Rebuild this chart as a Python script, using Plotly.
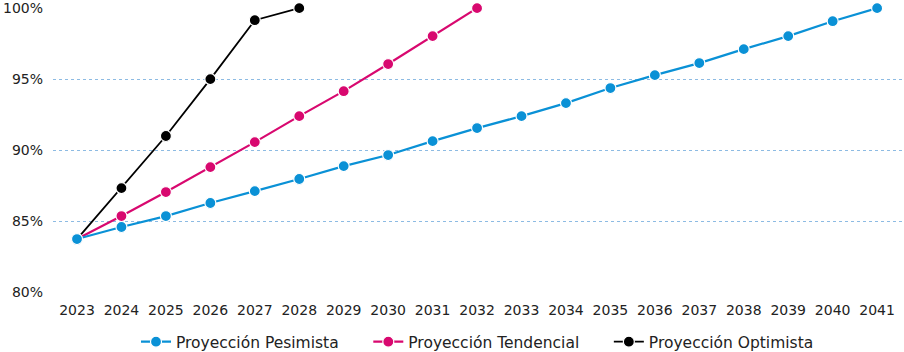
import plotly.graph_objects as go

years = list(range(2023, 2042))
pesimista = [83.73, 84.58, 85.35, 86.27, 87.11, 87.96, 88.87, 89.65, 90.63, 91.55,
             92.39, 93.31, 94.37, 95.28, 96.13, 97.11, 98.03, 99.08, 100.0]
tendencial = [83.73, 85.35, 87.04, 88.80, 90.56, 92.39, 94.15, 96.06, 98.03, 100.0]
optimista = [83.73, 87.32, 90.99, 95.0, 99.15, 100.0]

series = [
    ("Proyección Optimista", optimista, "#000000", 1.8, 3),
    ("Proyección Tendencial", tendencial, "#D8086F", 2.2, 2),
    ("Proyección Pesimista", pesimista, "#0A91D6", 2.2, 1),
]

pad = "\u00a0" * 5

fig = go.Figure()
for name, vals, color, w, rank in series:
    fig.add_trace(go.Scatter(
        x=years[:len(vals)], y=vals, name=name + (pad if rank < 3 else ""),
        mode="lines+markers",
        line=dict(color=color, width=w),
        marker=dict(size=11, color=color, line=dict(color="white", width=1.2)),
        cliponaxis=False, legendrank=rank,
    ))

fig.update_layout(
    width=904, height=352,
    margin=dict(l=53, r=2, t=8, b=60, autoexpand=False),
    paper_bgcolor="white", plot_bgcolor="white",
    font=dict(family="DejaVu Sans, sans-serif", size=14, color="#222222"),
    showlegend=True,
    legend=dict(orientation="h", x=0.5, xanchor="center",
                y=0.028, yanchor="middle", yref="container",
                font=dict(size=15.5, color="#222222"),
                traceorder="normal"),
)
fig.update_xaxes(
    range=[2022.46, 2041.56], tickmode="array", tickvals=years,
    ticktext=[str(y) for y in years], showgrid=False, zeroline=False,
    showline=False, ticks="", tickfont=dict(size=14), ticklabelstandoff=8,
)
fig.update_yaxes(
    range=[80, 100.01], tickvals=[80, 85, 90, 95, 100],
    ticktext=["80%", "85%", "90%", "95%", "100%"],
    showgrid=True, gridcolor="#8DBBE3", griddash="dot", gridwidth=1,
    zeroline=False, showline=False, ticks="", ticklabelstandoff=9,
    tickfont=dict(size=14), ticklabeloverflow="allow",
)

fig.write_html("out.html")
